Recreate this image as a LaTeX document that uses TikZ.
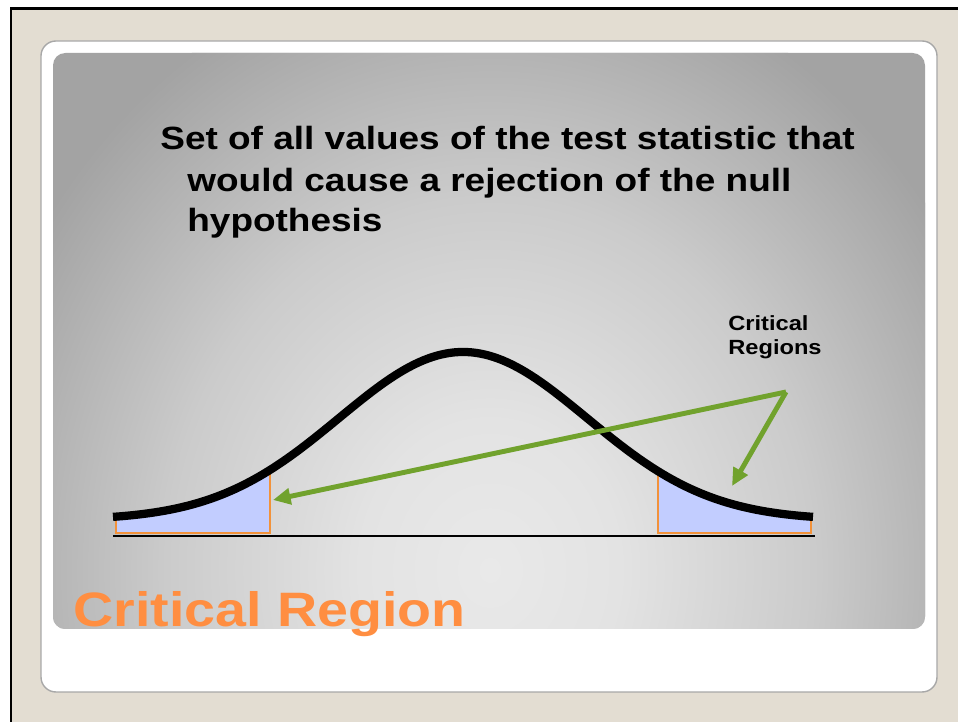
\documentclass[tikz,border=0pt]{standalone}
\usepackage{fontspec}
\setmainfont{Liberation Sans}
\newfontfamily\slidefont[FakeStretch=1.15]{Liberation Sans}
\usetikzlibrary{arrows.meta}

\definecolor{deskbeige}{HTML}{E3DDD2}
\definecolor{cardedge}{HTML}{A8A8A8}
\definecolor{panelhi}{HTML}{E9E9E9}
\definecolor{panelmid}{HTML}{E3E3E3}
\definecolor{panelsoft}{HTML}{CBCBCB}
\definecolor{panello}{HTML}{A3A3A3}
\definecolor{titleorange}{HTML}{FF8E41}
\definecolor{pointgreen}{HTML}{71A22D}
\definecolor{tailblue}{HTML}{C2CDFF}
\definecolor{tailorange}{HTML}{F2923A}

% light glow towards the lower middle of the slide panel
% (the path's box maps to the inner 25bp of the shading)
\pgfdeclareradialshading{panelglow}{\pgfpointorigin}{%
  color(0bp)=(panelhi); color(6bp)=(panelmid); color(15bp)=(panelsoft);
  color(25bp)=(panello); color(50bp)=(panello)}

\begin{document}
\begin{tikzpicture}[x=0.02cm, y=-0.02cm,
    declare function={bell(\x)=536-16-168*exp(-0.5*((\x-463)/124)^2);},
    stmt/.style={font=\slidefont\bfseries\fontsize{18.3}{22}\selectfont,
                 inner sep=0pt, anchor=base west},
    heading/.style={font=\slidefont\bfseries\fontsize{27.5}{32}\selectfont,
                 text=titleorange, inner sep=0pt, anchor=base west},
    callout/.style={font=\slidefont\bfseries\fontsize{11.7}{14.2}\selectfont,
                 align=left, inner sep=0pt, anchor=base west},
    pointer/.style={-{Triangle[length=10pt, width=9pt]}, draw=pointgreen,
                 line width=2.8pt},
    tailfill/.style={fill=tailblue},
    tailedge/.style={draw=tailorange, line width=0.8pt},
    bellline/.style={line width=4.7pt, line join=round},
]
\useasboundingbox (0,0) rectangle (958,722);
\fill[white] (0,0) rectangle (958,722);
\fill[deskbeige] (11,9) rectangle (958,722);
\draw[line width=1.7pt] (958,9) -- (11,9) -- (11,722);

% card and shaded panel
\draw[cardedge, line width=0.8pt, fill=white, rounded corners=8.5pt]
   (41,41) rectangle (937,692);
\fill[panello, rounded corners=7pt] (53,53) rectangle (925,629);
\begin{scope}
  \clip[rounded corners=7pt] (53,53) rectangle (925,629);
  \shade[shading=panelglow] (490,570) ellipse [x radius=540, y radius=620];
\end{scope}

% statement
\node[stmt] (line1) at (160,150) {Set of all values of the test statistic that};
\node[stmt] (line2) at (187,192) {would cause a rejection of the null};
\node[stmt] (line3) at (187,232) {hypothesis};

% shaded tails
\fill[tailfill] (116,533) -- plot[domain=116:270, samples=40] (\x,{bell(\x)})
   -- (270,533) -- cycle;
\fill[tailfill] (658,533) -- plot[domain=658:811, samples=40] (\x,{bell(\x)})
   -- (811,533) -- cycle;
\draw[tailedge] (116,{bell(116)}) -- (116,533) -- (270,533) -- (270,{bell(270)});
\draw[tailedge] (658,{bell(658)}) -- (658,533) -- (811,533) -- (811,{bell(811)});

% axis and curve
\draw[line width=1.1pt] (113,536) -- (815,536);
\draw[bellline] plot[domain=113:813, samples=150] (\x,{bell(\x)});

% label and arrows
\node[callout] (crit) at (728,355) {Critical\\Regions};
\coordinate (hub) at (786,392);
\coordinate (lefttail) at (273,500);
\coordinate (righttail) at (732,486);
\draw[pointer] (hub) -- (lefttail);
\draw[pointer] (hub) -- (righttail);

\node[heading] (title) at (73,627) {Critical Region};
\end{tikzpicture}
\end{document}
